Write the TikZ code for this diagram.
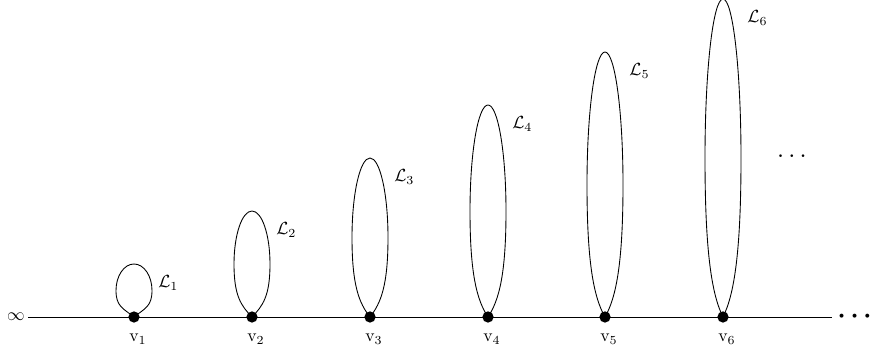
\documentclass[tikz,border=0pt]{standalone}
\usepackage{amsmath}
\usetikzlibrary{calc}
\begin{document}
\begin{tikzpicture}[x=0.568pt,y=0.568pt,
  vtx/.style={circle,fill=black,inner sep=0pt,minimum size=6.4pt},
  vlab/.style={inner sep=0pt,anchor=base},
  llab/.style={inner sep=0pt,anchor=west},
  loopline/.style={line width=0.5pt},
  baseline/.style={line width=0.5pt}]
\useasboundingbox (0,0) rectangle (870,348);
\node[inner sep=1.5pt] (inf) at (16,31) {$\infty$};
\coordinate (lend) at (832,31);
\draw[baseline] (inf.east) -- (lend);
\node[inner sep=0pt] (rdots) at (857,31.5) {\Large$\boldsymbol{\cdots}$};
\node[inner sep=0pt] (mdots) at (794,191) {\Large$\cdots$};
\foreach \i/\X in {1/134,2/252,3/370,4/488,5/605,6/723}{
  \pgfmathsetmacro{\b}{26.5*\i}
  \pgfmathsetmacro{\c}{0.1*\b+6}
  \node[vtx] (v\i) at (\X,31) {};
  \node[vlab] (n\i) at (\X+4,6) {$\mathrm{v}_{\i}$};
  \node[llab] (l\i) at ($(v\i)+(24,2*\b-19)$) {$\mathcal{L}_{\i}$};
  \draw[loopline] (v\i.center)
    .. controls ($(v\i)+(-11,\c)$) and ($(v\i)+(-18,0.4*\b)$) .. ($(v\i)+(-18,\b)$)
    .. controls ($(v\i)+(-18,1.552*\b)$) and ($(v\i)+(-9.94,2*\b)$) .. ($(v\i)+(0,2*\b)$)
    .. controls ($(v\i)+(9.94,2*\b)$) and ($(v\i)+(18,1.552*\b)$) .. ($(v\i)+(18,\b)$)
    .. controls ($(v\i)+(18,0.4*\b)$) and ($(v\i)+(11,\c)$) .. (v\i.center);
}
\end{tikzpicture}
\end{document}
